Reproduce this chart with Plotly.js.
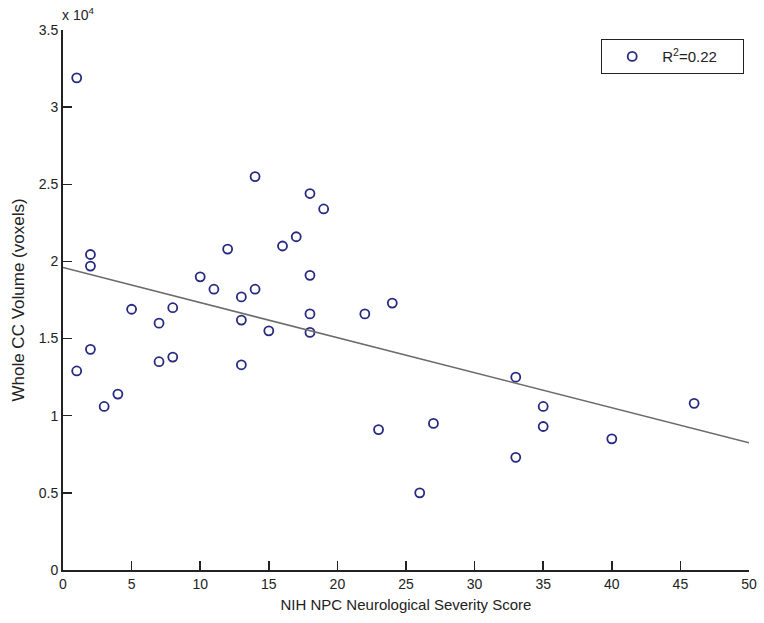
<!DOCTYPE html>
<html>
<head>
<meta charset="utf-8">
<script src="https://cdn.plot.ly/plotly-3.0.1.min.js"></script>
<style>html,body{margin:0;padding:0;background:#fff;}#chart{width:764px;height:623px;}</style>
</head>
<body>
<div id="chart"></div>
<script>
// NIH NPC Neurological Severity Score for each subject
const severityScore = [1, 14, 2, 2, 12, 10, 11, 13, 14, 5, 8, 7, 13, 2, 7, 8, 13, 1, 4, 3,
  18, 19, 17, 16, 18, 24, 22, 18, 15, 18, 33, 35, 35, 46, 40, 33, 23, 27, 26];
// Whole CC volume (voxels)
const ccVolume = [31900, 25500, 20450, 19700, 20800, 19000, 18200, 17700, 18200, 16900,
  17000, 16000, 16200, 14300, 13500, 13800, 13300, 12900, 11400, 10600,
  24400, 23400, 21600, 21000, 19100, 17300, 16600, 16600, 15500, 15400,
  12500, 10600, 9300, 10800, 8500, 7300, 9100, 9500, 5000];
// Regression line end points
const fitX = [0, 50];
const fitY = [19600, 8250];
// Axis ticks
const yTickVals = [0, 5000, 10000, 15000, 20000, 25000, 30000, 35000];
const yTickText = ['0', '0.5', '1', '1.5', '2', '2.5', '3', '3.5'];
const xTickVals = [0, 5, 10, 15, 20, 25, 30, 35, 40, 45, 50];

const fam = 'Liberation Sans, Arial, sans-serif';
const font = {family: fam, size: 14, color: '#222'};

const traces = [
  {
    x: severityScore, y: ccVolume, type: 'scatter', mode: 'markers',
    name: 'R<sup>2</sup>=0.22&nbsp;&nbsp;&nbsp;&nbsp;&nbsp;',
    marker: {symbol: 'circle-open', size: 9, color: '#262a80', line: {width: 1.8, color: '#262a80'}},
    cliponaxis: false
  },
  {
    x: fitX, y: fitY, type: 'scatter', mode: 'lines', showlegend: false,
    line: {color: '#6b6b6b', width: 1.5}
  }
];

const layout = {
  width: 764, height: 623,
  margin: {l: 63, r: 15, t: 30, b: 53},
  paper_bgcolor: '#fff', plot_bgcolor: '#fff',
  font: font,
  showlegend: true,
  legend: {
    x: 0.993, y: 0.983, xanchor: 'right', yanchor: 'top',
    bordercolor: '#222', borderwidth: 1, bgcolor: '#fff',
    font: {family: fam, size: 15, color: '#222'},
    itemwidth: 50
  },
  xaxis: {
    range: [0, 50], tickvals: xTickVals, ticks: 'inside', ticklen: 9, tickwidth: 1.5, tickcolor: '#222',
    showline: true, linecolor: '#222', linewidth: 2, showgrid: false, zeroline: false, mirror: false,
    tickfont: font,
    title: {text: 'NIH NPC Neurological Severity Score', font: {family: fam, size: 15, color: '#222'}, standoff: 9}
  },
  yaxis: {
    range: [0, 35000], tickvals: yTickVals, ticktext: yTickText, ticks: 'inside', ticklen: 9, tickwidth: 1.5, tickcolor: '#222',
    showline: true, linecolor: '#222', linewidth: 2, showgrid: false, zeroline: false, mirror: false,
    tickfont: font,
    title: {text: 'Whole CC Volume (voxels)', font: {family: fam, size: 17, color: '#222'}, standoff: 10}
  },
  annotations: [
    {xref: 'paper', yref: 'paper', x: 0, y: 1, xanchor: 'left', yanchor: 'bottom', yshift: 5, xshift: -3,
     text: 'x 10<sup>4</sup>', showarrow: false, font: {family: fam, size: 14, color: '#222'}}
  ]
};

Plotly.newPlot('chart', traces, layout, {displayModeBar: false, staticPlot: true});
</script>
</body>
</html>
